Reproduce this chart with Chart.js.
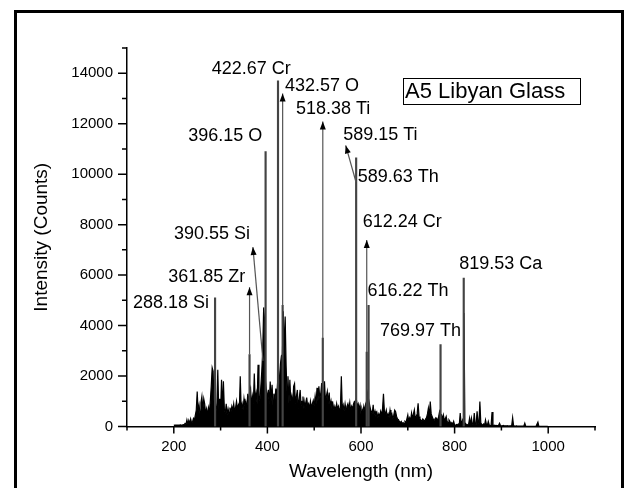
<!DOCTYPE html>
<html>
<head>
<meta charset="utf-8">
<script src="https://cdn.jsdelivr.net/npm/chart.js@4.4.0/dist/chart.umd.min.js"></script>
<style>
  html, body { margin: 0; padding: 0; background: #fff; }
  #wrap { position: relative; width: 624px; height: 488px; overflow: hidden; }
  #frame { position: absolute; left: 14px; top: 10px; width: 604px; height: 500px; border: 3px solid #000; }
  canvas { position: absolute; left: 0; top: 0; }
</style>
</head>
<body>
<div id="wrap">
  <canvas id="spec" width="624" height="488"></canvas>
  <div id="frame"></div>
</div>
<script>
const FONT = "Arial, 'Liberation Sans', sans-serif";

// LIBS spectrum, one reading every 2 nm from 200 to 1000 nm
const specStart = 200;
const specStep = 2;
const specCounts = [
  50, 60, 55, 60, 60, 55, 60, 65, 60, 60, 70, 65, 120, 80, 260, 90, 240, 110, 300, 150,
  180, 320, 250, 450, 650, 1390, 600, 850, 500, 950, 1190, 650, 1100, 900, 500, 700, 450, 750, 550, 1000,
  1600, 2330, 2200, 900, 1200, 600, 800, 2250, 700, 1100, 650, 1850, 600, 1790, 700, 500, 900, 450, 700, 500,
  750, 550, 800, 650, 900, 600, 750, 1000, 700, 850, 650, 1990, 700, 900, 650, 1100, 800, 950, 700, 1300,
  900, 1400, 1530, 800, 1190, 900, 2100, 1000, 1300, 900, 2450, 1200, 1000, 1600, 2200, 3000, 4720, 4200, 1800, 1400,
  1100, 1450, 900, 1780, 1000, 1650, 800, 1300, 1000, 1500, 1200, 1800, 1400, 2000, 2500, 2800, 2850, 4570, 2800, 4360,
  2400, 1300, 1990, 900, 1850, 1000, 1200, 800, 1590, 1700, 900, 1200, 1450, 700, 1100, 1450, 800, 1000, 1190, 700,
  1000, 700, 1150, 800, 900, 700, 1000, 750, 900, 1030, 800, 1200, 900, 1530, 1000, 1590, 1100, 1300, 1720, 1100,
  1300, 1790, 1000, 1200, 1390, 900, 1350, 800, 1000, 700, 900, 650, 800, 600, 900, 700, 800, 600, 750, 1990,
  700, 850, 600, 900, 650, 800, 900, 700, 950, 600, 800, 700, 900, 1000, 1000, 1100, 800, 900, 700, 850,
  500, 700, 550, 800, 600, 900, 1000, 1330, 1100, 900, 700, 600, 500, 860, 450, 600, 400, 550, 350, 500,
  400, 600, 450, 700, 1300, 600, 500, 650, 400, 500, 350, 650, 400, 500, 300, 450, 650, 590, 400, 300,
  270, 200, 150, 200, 120, 150, 100, 200, 150, 300, 460, 200, 350, 250, 530, 300, 500, 660, 300, 400,
  500, 920, 400, 300, 250, 200, 300, 250, 200, 300, 350, 500, 730, 400, 990, 500, 400, 300, 250, 300,
  350, 300, 250, 400, 600, 500, 460, 300, 460, 250, 300, 400, 200, 150, 260, 200, 100, 150, 80, 200,
  60, 50, 80, 60, 100, 80, 530, 100, 200, 300, 4500, 150, 100, 80, 60, 100, 330, 80, 330, 100,
  80, 530, 100, 60, 600, 200, 100, 990, 150, 80, 60, 100, 50, 260, 80, 50, 200, 60, 40, 50,
  570, 60, 40, 50, 30, 40, 30, 50, 130, 40, 30, 30, 40, 30, 25, 30, 25, 30, 20, 25,
  30, 40, 350, 40, 20, 20, 25, 20, 15, 20, 15, 20, 15, 15, 20, 130, 15, 10, 10, 10,
  10, 10, 10, 10, 10, 10, 10, 10, 10, 170, 10, 10, 8, 8, 8, 8, 5, 5, 5, 5,
  0
];

// strong emission lines
const lineNm = [288.18, 361.85, 396.15, 422.67, 432.57, 518.38, 589.63, 612.24, 616.22, 769.97, 819.53];
const lineCounts = [5100, 2850, 10900, 13700, 4800, 3500, 10650, 2950, 4800, 3250, 5880];

// line identifications and where their text sits (nm, counts)
const labelText = ["288.18 Si", "361.85 Zr", "390.55 Si", "396.15 O", "422.67 Cr", "432.57 O",
  "518.38 Ti", "589.15 Ti", "589.63 Th", "612.24 Cr", "616.22 Th", "769.97 Th", "819.53 Ca"];
const labelNm = [112.8, 188, 200.4, 231, 281, 437.6, 461, 562, 593, 603.6, 614, 640.6, 810];
const labelCounts = [4880, 5930, 7630, 11520, 14160, 13510, 12580, 11570, 9890, 8120, 5370, 3780, 6430];

// pointer arrows from a line up to its label
const arrowFromNm = [361.85, 390.55, 432.57, 518.38, 589.15, 612.24];
const arrowFromCounts = [2850, 2600, 4800, 3500, 9700, 2950];
const arrowToNm = [361.85, 369, 432.57, 518.38, 567.3, 612.24];
const arrowToCounts = [5520, 7110, 13200, 12090, 11140, 7390];

const xTickValues = [200, 400, 600, 800, 1000];
const yTickValues = [0, 2000, 4000, 6000, 8000, 10000, 12000, 14000];

const sampleName = "A5 Libyan Glass";

const annotate = {
  id: 'annotate',
  afterDatasetsDraw(chart) {
    const { ctx, chartArea, scales: { x, y } } = chart;
    ctx.save();
    arrowFromNm.forEach((nm, i) => {
      const x1 = x.getPixelForValue(nm), y1 = y.getPixelForValue(arrowFromCounts[i]);
      const x2 = x.getPixelForValue(arrowToNm[i]), y2 = y.getPixelForValue(arrowToCounts[i]);
      ctx.strokeStyle = '#555';
      ctx.lineWidth = 1.2;
      ctx.beginPath();
      ctx.moveTo(x1, y1);
      ctx.lineTo(x2, y2);
      ctx.stroke();
      const a = Math.atan2(y2 - y1, x2 - x1);
      const c = Math.cos(a), s = Math.sin(a);
      ctx.fillStyle = '#000';
      ctx.beginPath();
      ctx.moveTo(x2, y2);
      ctx.lineTo(x2 - 8 * c + 3 * s, y2 - 8 * s - 3 * c);
      ctx.lineTo(x2 - 8 * c - 3 * s, y2 - 8 * s + 3 * c);
      ctx.closePath();
      ctx.fill();
    });

    ctx.font = '18px ' + FONT;
    ctx.fillStyle = '#000';
    ctx.textAlign = 'left';
    ctx.textBaseline = 'middle';
    labelText.forEach((t, i) => {
      ctx.fillText(t, x.getPixelForValue(labelNm[i]), y.getPixelForValue(labelCounts[i]));
    });

    // sample name box
    const bx = chartArea.right - 192, by = chartArea.top + 30;
    ctx.strokeStyle = '#000';
    ctx.lineWidth = 1;
    ctx.strokeRect(bx + 0.5, by + 0.5, 177, 26);
    ctx.font = '22px ' + FONT;
    ctx.fillText(sampleName, bx + 2, by + 14);
    ctx.restore();
  },
  afterDraw(chart) {
    const { ctx, chartArea, scales: { x, y } } = chart;
    ctx.save();
    ctx.strokeStyle = '#000';
    ctx.lineWidth = 1.5;
    ctx.beginPath();
    for (let v = 0; v <= 15000; v += 1000) {
      const py = y.getPixelForValue(v);
      const len = yTickValues.includes(v) ? 9 : 5;
      ctx.moveTo(chartArea.left - len, py);
      ctx.lineTo(chartArea.left, py);
    }
    for (let v = 100; v <= 1100; v += 100) {
      const px = x.getPixelForValue(v);
      const len = xTickValues.includes(v) ? 7 : 4;
      ctx.moveTo(px, chartArea.bottom);
      ctx.lineTo(px, chartArea.bottom + len);
    }
    ctx.stroke();
    ctx.restore();
  }
};

new Chart(document.getElementById('spec'), {
  type: 'line',
  data: {
    datasets: [
      {
        type: 'bar',
        data: lineNm.map((nm, i) => ({ x: nm, y: lineCounts[i] })),
        backgroundColor: '#444',
        barThickness: 1.5,
        order: 1
      },
      {
        data: specCounts.map((c, i) => ({ x: specStart + i * specStep, y: c })),
        borderColor: '#000',
        backgroundColor: '#000',
        borderWidth: 1.2,
        fill: 'origin',
        pointRadius: 0,
        tension: 0,
        order: 2
      }
    ]
  },
  options: {
    responsive: false,
    animation: false,
    layout: { padding: { left: 0, top: 48, right: 29, bottom: 0 } },
    plugins: { legend: { display: false }, tooltip: { enabled: false } },
    scales: {
      x: {
        type: 'linear',
        min: 100,
        max: 1100,
        offset: false,
        afterBuildTicks: s => { s.ticks = xTickValues.map(v => ({ value: v })); },
        afterFit: s => { s.height = 61.5; },
        grid: { display: false, drawTicks: false },
        border: { display: true, color: '#000', width: 1.5 },
        ticks: { color: '#000', font: { family: FONT, size: 15 }, padding: 11, maxRotation: 0, autoSkip: false,
                 callback: v => String(v) },
        title: { display: true, text: 'Wavelength (nm)', color: '#000', font: { family: FONT, size: 19 }, padding: { bottom: 5 } }
      },
      y: {
        min: 0,
        max: 15000,
        afterBuildTicks: s => { s.ticks = yTickValues.map(v => ({ value: v })); },
        afterFit: s => { s.width = 127; },
        grid: { display: false, drawTicks: false },
        border: { display: true, color: '#000', width: 1.5 },
        ticks: { color: '#000', font: { family: FONT, size: 15 }, padding: 14, callback: v => String(v) },
        title: { display: true, text: 'Intensity (Counts)', color: '#000', font: { family: FONT, size: 19 }, padding: { top: 30 } }
      }
    }
  },
  plugins: [annotate]
});
</script>
</body>
</html>
